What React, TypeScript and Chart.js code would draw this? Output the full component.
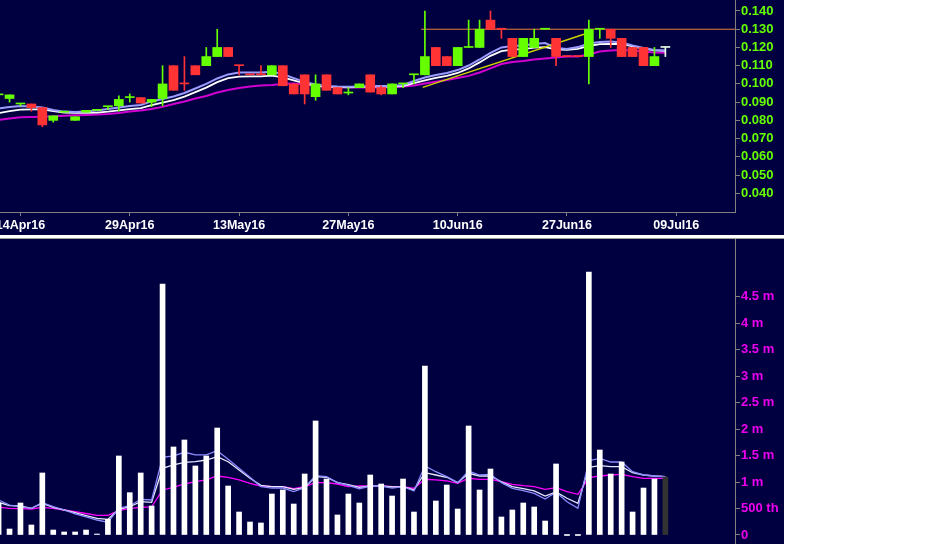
import React, { useEffect, useRef } from 'react';
import { Chart, registerables } from 'chart.js';

Chart.register(...registerables);

// ---------- data ----------
const dates = ['12Apr16','13Apr16','14Apr16','15Apr16','18Apr16','19Apr16','20Apr16','21Apr16','22Apr16','26Apr16','27Apr16','28Apr16','29Apr16','02May16','03May16','04May16','05May16','06May16','09May16','10May16','11May16','12May16','13May16','16May16','17May16','18May16','19May16','20May16','23May16','24May16','25May16','26May16','27May16','30May16','31May16','01Jun16','02Jun16','03Jun16','06Jun16','07Jun16','08Jun16','09Jun16','10Jun16','14Jun16','15Jun16','16Jun16','17Jun16','20Jun16','21Jun16','22Jun16','23Jun16','24Jun16','27Jun16','28Jun16','29Jun16','30Jun16','01Jul16','04Jul16','05Jul16','06Jul16','07Jul16','08Jul16'];

const opens = [0.094,0.092,0.089,0.089,0.087,0.080,0.0845,0.080,0.0845,0.0855,0.0875,0.088,0.0925,0.0925,0.090,0.092,0.110,0.100,0.110,0.110,0.115,0.120,0.110,0.105,0.105,0.105,0.110,0.100,0.105,0.093,0.105,0.098,0.095,0.098,0.105,0.098,0.0945,0.100,0.105,0.105,0.120,0.115,0.110,0.120,0.120,0.135,0.130,0.125,0.115,0.120,0.130,0.125,0.115,0.115,0.115,0.130,0.130,0.125,0.120,0.120,0.110,0.120];
const highs = [0.094,0.094,0.089,0.089,0.087,0.0825,0.0845,0.082,0.0855,0.0855,0.0875,0.0935,0.0945,0.0925,0.0915,0.110,0.110,0.115,0.110,0.120,0.130,0.120,0.110,0.105,0.110,0.110,0.110,0.100,0.105,0.105,0.105,0.098,0.098,0.100,0.105,0.099,0.100,0.100,0.105,0.140,0.120,0.115,0.120,0.135,0.135,0.140,0.130,0.125,0.125,0.130,0.130,0.125,0.115,0.115,0.135,0.130,0.130,0.125,0.120,0.120,0.120,0.120];
const lows = [0.094,0.090,0.088,0.085,0.0765,0.079,0.0845,0.080,0.0845,0.0855,0.086,0.085,0.090,0.0895,0.0875,0.088,0.0965,0.0965,0.105,0.110,0.115,0.115,0.105,0.105,0.105,0.105,0.099,0.0945,0.089,0.091,0.0965,0.0945,0.094,0.098,0.0955,0.094,0.0945,0.098,0.100,0.105,0.110,0.110,0.110,0.120,0.120,0.130,0.125,0.115,0.115,0.120,0.130,0.110,0.115,0.115,0.100,0.125,0.120,0.115,0.115,0.110,0.110,0.115];
const closes = [0.094,0.094,0.089,0.087,0.0775,0.0825,0.0845,0.082,0.0855,0.0855,0.0875,0.0915,0.0925,0.0895,0.0915,0.100,0.0965,0.100,0.105,0.115,0.120,0.115,0.110,0.105,0.105,0.110,0.099,0.0945,0.0945,0.100,0.0965,0.0945,0.095,0.100,0.0955,0.0945,0.100,0.100,0.105,0.115,0.110,0.110,0.120,0.120,0.130,0.130,0.130,0.115,0.125,0.125,0.130,0.115,0.115,0.115,0.130,0.130,0.125,0.115,0.115,0.110,0.115,0.120];
// 1 = up (green), -1 = down (red), 0 = neutral
const candleDir = [1,1,1,-1,-1,1,1,1,1,1,1,1,1,-1,1,1,-1,-1,-1,1,1,-1,-1,-1,-1,1,-1,-1,-1,1,-1,-1,1,1,-1,-1,1,1,1,1,-1,-1,1,1,1,-1,-1,-1,1,1,1,-1,-1,-1,1,1,-1,-1,-1,-1,1,0];

const priceMaFast = [0.0865,0.0873,0.0879,0.0876,0.0871,0.0857,0.0848,0.0846,0.0849,0.0854,0.0862,0.0871,0.0879,0.0884,0.0904,0.0917,0.0931,0.0950,0.0975,0.1000,0.1030,0.1052,0.1062,0.1063,0.1063,0.1067,0.1054,0.1032,0.1011,0.0997,0.0989,0.0986,0.0985,0.0986,0.0989,0.0989,0.0989,0.0994,0.1016,0.1035,0.1049,0.1060,0.1076,0.1101,0.1134,0.1170,0.1200,0.1208,0.1211,0.1219,0.1224,0.1197,0.1192,0.1202,0.1222,0.1230,0.1232,0.1227,0.1211,0.1197,0.1186,0.1183];
const priceMaMid = [0.0840,0.0851,0.0859,0.0860,0.0860,0.0851,0.0843,0.0841,0.0841,0.0843,0.0848,0.0855,0.0862,0.0867,0.0884,0.0897,0.0911,0.0930,0.0955,0.0980,0.1010,0.1032,0.1040,0.1041,0.1041,0.1045,0.1036,0.1020,0.1003,0.0991,0.0984,0.0982,0.0981,0.0982,0.0985,0.0985,0.0985,0.0988,0.1004,0.1019,0.1033,0.1044,0.1060,0.1085,0.1118,0.1154,0.1180,0.1188,0.1191,0.1199,0.1202,0.1189,0.1187,0.1192,0.1208,0.1218,0.1220,0.1219,0.1206,0.1194,0.1184,0.1181];
const priceMaSlow = [0.0802,0.0810,0.0817,0.0819,0.0820,0.0822,0.0826,0.0828,0.0830,0.0832,0.0835,0.0840,0.0849,0.0854,0.0862,0.0874,0.0890,0.0904,0.0920,0.0934,0.0953,0.0967,0.0978,0.0986,0.0991,0.0994,0.1000,0.1002,0.0997,0.0989,0.0983,0.0982,0.0982,0.0980,0.0980,0.0980,0.0982,0.0986,0.0991,0.1002,0.1012,0.1022,0.1033,0.1044,0.1063,0.1085,0.1109,0.1120,0.1126,0.1134,0.1139,0.1145,0.1150,0.1150,0.1161,0.1178,0.1183,0.1186,0.1183,0.1178,0.1172,0.1171];

const volumes = [598000,113000,604000,189000,1171000,94000,57000,57000,94000,10000,296000,1492000,799000,1171000,548000,4740000,1662000,1794000,1303000,1492000,2020000,925000,434000,245000,227000,774000,850000,585000,1152000,2153000,1057000,378000,774000,604000,1133000,963000,736000,1057000,434000,3191000,642000,944000,491000,2058000,850000,1246000,340000,472000,604000,529000,264000,1341000,0,0,4966000,1605000,1152000,1378000,434000,887000,1057000,1095000];
const volMaFast = [661,566,529,504,610,534,472,397,340,283,240,504,553,674,661,1467,1492,1562,1511,1511,1592,1429,1259,1090,912,887,887,818,893,1120,1101,988,938,874,925,925,887,912,831,1303,1195,1101,988,1208,1133,1146,988,882,836,787,680,806,629,504,1403,1448,1378,1378,1195,1133,1114,1101].map(v => v * 1000);
const volMaMid = [617,553,548,504,599,523,472,421,368,315,296,485,534,629,617,1259,1322,1373,1384,1416,1478,1384,1227,1071,938,912,912,863,893,1101,1090,988,950,901,925,925,906,912,850,1176,1133,1090,988,1165,1114,1114,1006,912,874,831,736,812,693,599,1278,1309,1290,1290,1176,1133,1114,1101].map(v => v * 1000);
const volMaSlow = [523,504,497,491,523,504,472,440,406,372,372,459,504,523,529,850,901,963,1006,1039,1114,1090,1039,976,925,912,912,874,912,988,988,963,912,925,925,925,912,912,882,1052,1039,1020,976,1071,1052,1052,1006,957,931,912,863,893,818,768,1082,1114,1133,1146,1101,1071,1071,1071].map(v => v * 1000);

const dateTickIdx = [2, 12, 22, 32, 42, 52, 62];
const dateTickLabels = ['14Apr16', '29Apr16', '13May16', '27May16', '10Jun16', '27Jun16', '09Jul16'];
const priceTicks = [0.04, 0.05, 0.06, 0.07, 0.08, 0.09, 0.10, 0.11, 0.12, 0.13, 0.14];
const volumeTicks = [0, 500000, 1000000, 1500000, 2000000, 2500000, 3000000, 3500000, 4000000, 4500000];

const resistanceLevel = 0.13;
const resistanceFrom = 38.65;
const trendX = [38.8, 53.56];
const trendY = [0.0981, 0.1272];

// ---------- view ----------
const X_MIN = 0.128;
const X_MAX = 67.37;
const P_MIN = 0.02974;
const P_MAX = 0.14603;
const V_MIN = -170000;
const V_MAX = 5589000;

const BG = '#000040';
const AXIS = '#808080';
const FONT = "'Liberation Sans', Arial, Helvetica, sans-serif";

export default function App() {
  const topRef = useRef<HTMLCanvasElement>(null);
  const botRef = useRef<HTMLCanvasElement>(null);

  useEffect(() => {
    document.body.style.margin = '0';
    const pts = (arr: number[]) => arr.map((y, i) => ({ x: i, y }));
    const candleColors = candleDir.map(d => (d > 0 ? '#66ff00' : d < 0 ? '#ff3333' : '#e8ffe8'));
    const volColors = volumes.map((_, i) => (i === volumes.length - 1 ? '#333333' : '#ffffff'));

    const xScale = (display: boolean): any => ({
      type: 'linear',
      min: X_MIN,
      max: X_MAX,
      offset: false,
      display,
      afterBuildTicks: (s: any) => { s.ticks = dateTickIdx.map(v => ({ value: v })); },
      afterFit: (s: any) => { s.height = display ? 23 : 0; s.paddingLeft = 0; s.paddingRight = 0; },
      ticks: {
        color: '#ffffff',
        font: { family: FONT, size: 12.5, weight: 'bold' },
        padding: 2,
        maxRotation: 0,
        minRotation: 0,
        autoSkip: false,
        callback: (v: any) => {
          const k = dateTickIdx.indexOf(Number(v));
          return k >= 0 ? dateTickLabels[k] : '';
        },
      },
      grid: { offset: false, drawOnChartArea: false, drawTicks: true, tickLength: 4, color: AXIS },
      border: { display: true, color: AXIS },
    });

    const common: any = {
      responsive: false,
      maintainAspectRatio: false,
      animation: false,
      devicePixelRatio: 1,
      events: [],
      layout: { padding: 0, autoPadding: false },
      plugins: { legend: { display: false }, tooltip: { enabled: false } },
    };

    const lineDs = (data: any[], color: string, width: number, order: number, extra: any = {}) => ({
      type: 'line',
      data,
      borderColor: color,
      borderWidth: width,
      pointRadius: 0,
      tension: 0,
      fill: false,
      order,
      ...extra,
    });

    const top = new Chart(topRef.current as HTMLCanvasElement, {
      type: 'bar',
      data: {
        datasets: [
          {
            type: 'bar',
            data: opens.map((o, i) => ({ x: i, y: [o, closes[i]] })),
            backgroundColor: candleColors,
            barThickness: 9,
            maxBarThickness: 9,
            barPercentage: 1,
            categoryPercentage: 1,
            minBarLength: 1,
            grouped: false,
            borderWidth: 0,
            order: 0,
          },
          {
            type: 'bar',
            data: lows.map((l, i) => ({ x: i, y: [l, highs[i]] })),
            backgroundColor: candleColors,
            barThickness: 1,
            maxBarThickness: 1,
            barPercentage: 1,
            categoryPercentage: 1,
            grouped: false,
            borderWidth: 0,
            order: 1,
          },
          lineDs([{ x: resistanceFrom, y: resistanceLevel }, { x: X_MAX, y: resistanceLevel }], '#e8823a', 1, 2),
          lineDs(trendX.map((x, i) => ({ x, y: trendY[i] })), '#d0d000', 1.5, 3),
          lineDs(pts(priceMaFast), '#9c9cff', 2, 4),
          lineDs(pts(priceMaMid), '#ffffff', 1.8, 5),
          lineDs(pts(priceMaSlow), '#d000d0', 2, 6),
        ] as any,
      },
      options: {
        ...common,
        scales: {
          x: xScale(true),
          y: {
            type: 'linear',
            position: 'right',
            min: P_MIN,
            max: P_MAX,
            afterBuildTicks: (s: any) => { s.ticks = priceTicks.map(v => ({ value: v })); },
            afterFit: (s: any) => { s.width = 49; s.paddingTop = 0; s.paddingBottom = 0; },
            ticks: {
              color: '#66ff00',
              font: { family: FONT, size: 13, weight: 'bold' },
              padding: 1,
              callback: (v: any) => Number(v).toFixed(3),
            },
            grid: { offset: false, drawOnChartArea: false, drawTicks: true, tickLength: 5, color: AXIS },
            border: { display: true, color: AXIS },
          },
        },
      } as any,
    });

    const bot = new Chart(botRef.current as HTMLCanvasElement, {
      type: 'bar',
      data: {
        datasets: [
          {
            type: 'bar',
            data: pts(volumes),
            backgroundColor: volColors,
            barThickness: 5,
            maxBarThickness: 5,
            barPercentage: 1,
            categoryPercentage: 1,
            minBarLength: 1,
            grouped: false,
            borderWidth: 0,
            order: 0,
          },
          lineDs(pts(volMaFast), '#8c8cff', 1.3, 1),
          lineDs(pts(volMaMid), '#e8e8ff', 1.3, 2),
          lineDs(pts(volMaSlow), '#ff00ff', 1.3, 3),
        ] as any,
      },
      options: {
        ...common,
        scales: {
          x: xScale(false),
          y: {
            type: 'linear',
            position: 'right',
            min: V_MIN,
            max: V_MAX,
            afterBuildTicks: (s: any) => { s.ticks = volumeTicks.map(v => ({ value: v })); },
            afterFit: (s: any) => { s.width = 49; s.paddingTop = 0; s.paddingBottom = 0; },
            ticks: {
              color: '#ee00ee',
              font: { family: FONT, size: 13, weight: 'bold' },
              padding: 1,
              callback: (v: any) => {
                const n = Number(v);
                if (n === 0) return '0';
                if (n < 1000000) return `${n / 1000} th`;
                return `${n / 1000000} m`;
              },
            },
            grid: { offset: false, drawOnChartArea: false, drawTicks: true, tickLength: 5, color: AXIS },
            border: { display: true, color: AXIS },
          },
        },
      } as any,
    });

    return () => {
      top.destroy();
      bot.destroy();
    };
  }, []);

  return (
    <div style={{ position: 'absolute', left: 0, top: 0, width: 933, height: 544, background: '#ffffff', overflow: 'hidden' }}>
      <canvas ref={topRef} width={784} height={235} style={{ position: 'absolute', left: 0, top: 0, width: 784, height: 235, background: BG }} />
      <div style={{ position: 'absolute', left: 0, top: 235, width: 784, height: 3, background: '#ffffff' }} />
      <div style={{ position: 'absolute', left: 0, top: 238, width: 784, height: 1, background: '#a0a0a0' }} />
      <canvas ref={botRef} width={784} height={305} style={{ position: 'absolute', left: 0, top: 239, width: 784, height: 305, background: BG }} />
    </div>
  );
}
